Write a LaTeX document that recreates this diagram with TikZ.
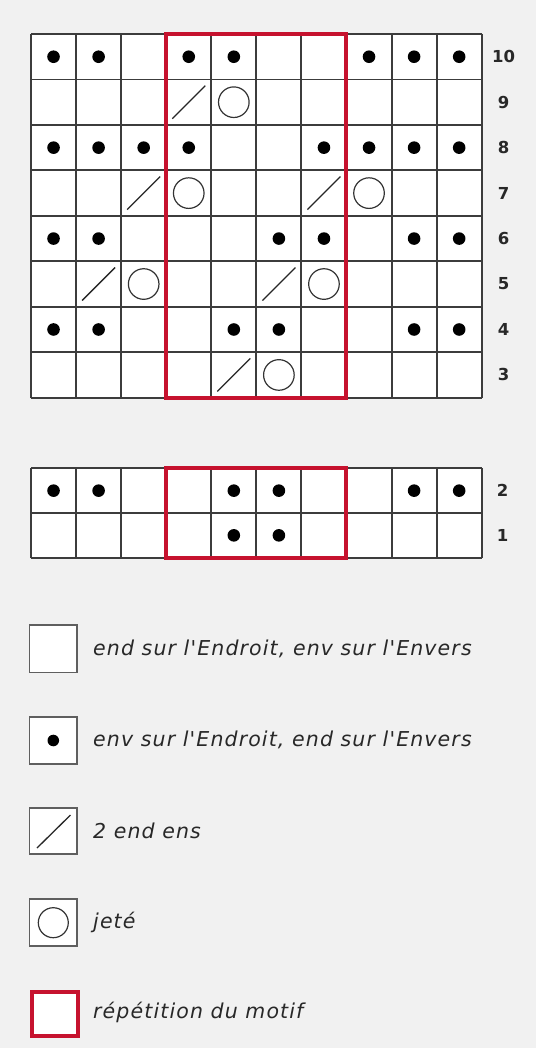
\documentclass[tikz,border=0pt]{standalone}
\usepackage{fontspec}
\setmainfont{DejaVu Sans}
\newfontfamily\legfont{DejaVu Sans Oblique}[LetterSpace=5.5]
\newfontfamily\numfont{DejaVu Sans Bold}
\definecolor{bg}{RGB}{241,241,241}
\definecolor{gridc}{RGB}{60,60,60}
\definecolor{boxc}{RGB}{95,95,95}
\definecolor{rep}{RGB}{198,18,46}
\definecolor{txt}{RGB}{40,40,40}
\begin{document}
\begin{tikzpicture}[x=1pt,y=-1pt,
  gridline/.style={draw=gridc,line width=1.9pt},
  repbox/.style={draw=rep,line width=4pt},
  purl/.style={fill=black},
  k2tog/.style={draw=black!85,line width=1.3pt},
  yo/.style={draw=black!80,line width=1.2pt},
  rownum/.style={font=\numfont\fontsize{16.5}{19}\selectfont,text=txt,inner sep=0pt},
  legtext/.style={font=\legfont\fontsize{20.5}{24}\selectfont,text=txt,anchor=base west,inner sep=0pt},
  legbox/.style={draw=boxc,fill=white,line width=1.8pt}]
\fill[bg] (0,0) rectangle (536,1048);
\useasboundingbox (0,0) rectangle (536,1048);
\def\gx{31}\def\cw{45.07}
% ---------- top chart (rows 10 to 3) ----------
\def\ta{34}\def\th{45.46}
\fill[white] (\gx,\ta) rectangle ({\gx+10*\cw},{\ta+8*\th});
\foreach \i in {0,...,10} \draw[gridline] ({\gx+\i*\cw},\ta) -- ({\gx+\i*\cw},{\ta+8*\th});
\foreach \j in {0,...,8} \draw[gridline] (\gx,{\ta+\j*\th}) -- ({\gx+10*\cw},{\ta+\j*\th});
\foreach \c/\r in {1/0,2/0,4/0,5/0,8/0,9/0,10/0,
                   1/2,2/2,3/2,4/2,7/2,8/2,9/2,10/2,
                   1/4,2/4,6/4,7/4,9/4,10/4,
                   1/6,2/6,5/6,6/6,9/6,10/6}
  \fill[purl] ({\gx+(\c-0.5)*\cw},{\ta+(\r+0.5)*\th}) circle[radius=6.3];
\foreach \c/\r in {4/1,3/3,7/3,2/5,6/5,5/7}
  \draw[k2tog] ({\gx+(\c-0.5)*\cw-16.5},{\ta+(\r+0.5)*\th+16.5}) -- ({\gx+(\c-0.5)*\cw+16.5},{\ta+(\r+0.5)*\th-16.5});
\foreach \c/\r in {5/1,4/3,8/3,3/5,7/5,6/7}
  \draw[yo] ({\gx+(\c-0.5)*\cw},{\ta+(\r+0.5)*\th}) circle[radius=15.3];
\draw[repbox] ({\gx+3*\cw},\ta) rectangle ({\gx+7*\cw},{\ta+8*\th});
\foreach \n/\r in {10/0,9/1,8/2,7/3,6/4,5/5,4/6,3/7}
  \node[rownum] (r\n) at (503.5,{\ta+(\r+0.5)*\th}) {\n};
% ---------- bottom chart (rows 2 and 1) ----------
\def\ba{468.3}\def\bh{44.7}
\fill[white] (\gx,\ba) rectangle ({\gx+10*\cw},{\ba+2*\bh});
\foreach \i in {0,...,10} \draw[gridline] ({\gx+\i*\cw},\ba) -- ({\gx+\i*\cw},{\ba+2*\bh});
\foreach \j in {0,...,2} \draw[gridline] (\gx,{\ba+\j*\bh}) -- ({\gx+10*\cw},{\ba+\j*\bh});
\foreach \c/\r in {1/0,2/0,5/0,6/0,9/0,10/0,5/1,6/1}
  \fill[purl] ({\gx+(\c-0.5)*\cw},{\ba+(\r+0.5)*\bh}) circle[radius=6.3];
\draw[repbox] ({\gx+3*\cw},\ba) rectangle ({\gx+7*\cw},{\ba+2*\bh});
\foreach \n/\r in {2/0,1/1}
  \node[rownum] (r\n) at (502.5,{\ba+(\r+0.5)*\bh}) {\n};
% ---------- legend ----------
\draw[legbox] (29.5,625) rectangle (77,672.5);
\node[legtext] (l1) at (93,655) {end sur l'Endroit, env sur l'Envers};
\draw[legbox] (29.5,716.7) rectangle (77,764.3);
\fill[purl] (53.3,740.5) circle[radius=5.8];
\node[legtext] (l2) at (93,746.7) {env sur l'Endroit, end sur l'Envers};
\draw[legbox] (29.5,808.3) rectangle (77,854.3);
\draw[k2tog] (37,848) -- (70.5,815);
\node[legtext] (l3) at (93,838.3) {2 end ens};
\draw[legbox] (29.5,899.3) rectangle (77,946);
\draw[yo] (53.3,922.7) circle[radius=15];
\node[legtext] (l4) at (93,928.3) {jeté};
\draw[repbox,fill=white] (31.5,992) rectangle (78,1036.3);
\node[legtext] (l5) at (93,1018.3) {répétition du motif};
\end{tikzpicture}
\end{document}
